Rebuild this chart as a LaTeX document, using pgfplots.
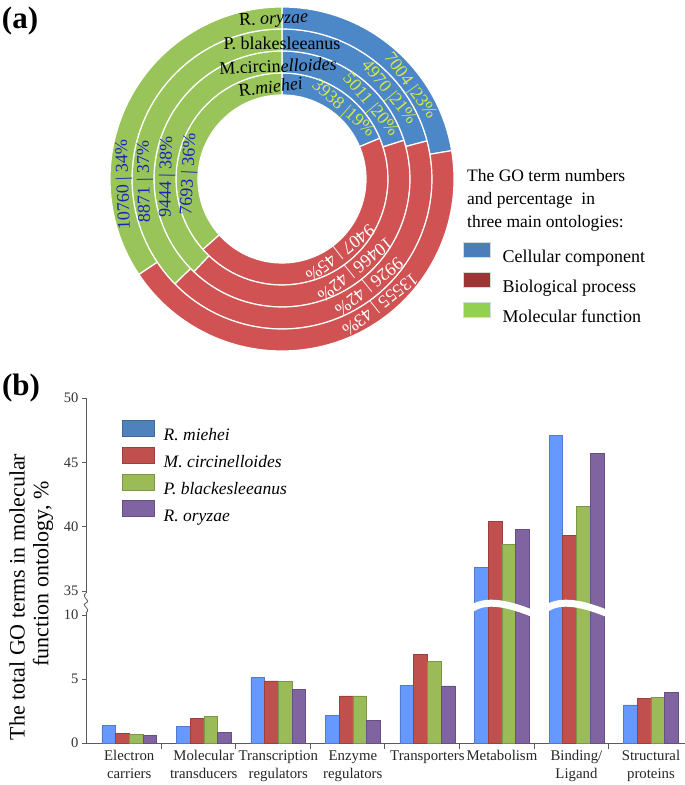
\documentclass[border=0pt]{standalone}
\usepackage{pgfplots}
\pgfplotsset{compat=1.18}
\usepackage{pgfplotstable}
\usepackage{fontspec}
\setmainfont{Liberation Serif}

% donut colours
\definecolor{piecc}{RGB}{76,136,200}
\definecolor{piebp}{RGB}{208,82,82}
\definecolor{piemf}{RGB}{152,196,89}
\definecolor{legcc}{RGB}{74,126,187}
\definecolor{legbp}{RGB}{158,52,52}
\definecolor{legmf}{RGB}{146,208,80}
\definecolor{cctext}{RGB}{214,232,74}
\definecolor{mftext}{RGB}{25,35,190}
% bar colours
\definecolor{bblue}{RGB}{102,153,255}
\definecolor{bred}{RGB}{192,80,77}
\definecolor{bgreen}{RGB}{155,187,89}
\definecolor{bpurple}{RGB}{128,100,162}
\definecolor{lblue}{RGB}{79,129,189}
\definecolor{axgray}{RGB}{90,90,90}

\newcommand{\rf}{\fontsize{18}{20}\selectfont}

% one ring segment: colour, inner r, outer r, start angle, end angle
\newcommand{\seg}[5]{%
  \fill[#1, draw=white, line width=1.2pt, shift={(axis cs:0,0)}]
    ({#4}:#3pt) arc[start angle={#4}, end angle={#5}, radius=#3pt]
    -- ({#5}:#2pt) arc[start angle={#5}, end angle={#4}, radius=#2pt] -- cycle;}
% one ring: inner r, outer r, cellular component, biological process, molecular function
\newcommand{\ring}[5]{%
  \seg{piecc}{#1}{#2}{90}{90-360*(#3/1000)/(#3/1000+#4/1000+#5/1000)}%
  \seg{piebp}{#1}{#2}{90-360*(#3/1000)/(#3/1000+#4/1000+#5/1000)}{90-360*(#3/1000+#4/1000)/(#3/1000+#4/1000+#5/1000)}%
  \seg{piemf}{#1}{#2}{90-360*(#3/1000+#4/1000)/(#3/1000+#4/1000+#5/1000)}{-270}}
% label on a ring: x, y, rotation, colour, text
\newcommand{\rlab}[5]{\node[rotate=#3, text=#4, font=\rf, inner sep=0pt] at (axis cs:#1,#2) {#5};}

% share of GO terms in molecular function ontology, %
\pgfplotstableread{
cat  rmi    mci    pbl    ror
0    1.35   0.75   0.65   0.58
1    1.27   1.94   2.07   0.83
2    5.10   4.85   4.80   4.20
3    2.18   3.68   3.68   1.76
4    4.52   6.95   6.36   4.46
5    36.85  40.40  38.65  39.80
6    47.07  39.35  41.60  45.70
7    2.98   3.48   3.58   3.97
}\mfdata

\pgfplotsset{
  barax/.style={scale only axis, width=600pt, xmin=-0.58, xmax=7.47,
    ybar=0pt, bar width=13.7pt, axis y line*=left,
    tick align=outside, major tick length=4pt, minor tick length=6pt,
    axis line style={axgray, line width=0.8pt},
    tick style={axgray, line width=0.8pt},
    yticklabel style={font=\fontsize{14.5}{16}\selectfont, text=black!80},
    /pgf/number format/assume math mode=true},
}

\begin{document}
\begin{tikzpicture}
\useasboundingbox (0pt,0pt) rectangle (685pt,785pt);
\node[font=\fontsize{31}{34}\selectfont\bfseries] at (20pt,764pt) {(a)};
\node[font=\fontsize{31}{34}\selectfont\bfseries] at (21pt,397pt) {(b)};

% ---------- (a) donut ----------
\begin{axis}[name=pie, at={(282pt,606pt)}, anchor=center, scale only axis,
  width=344pt, height=344pt, xmin=-172, xmax=172, ymin=-172, ymax=172,
  hide axis, clip=false,
  legend cell align=left,
  legend style={draw=none, fill=none, at={(1.026,0.316)}, anchor=north west,
    font=\fontsize{18}{21}\selectfont, inner sep=0pt, row sep=5.5pt,
    nodes={text height=15pt, text depth=4.5pt, inner ysep=0pt, inner xsep=3pt},
    /tikz/every odd column/.append style={column sep=9pt}}]
\ring{84}{106}{3938}{9407}{7693}
\ring{106}{128}{5011}{10466}{9444}
\ring{128}{150}{4970}{9926}{8871}
\ring{150}{172}{7004}{13555}{10760}

\rlab{-8.4}{159}{3}{black}{R. \textit{oryzae}}
\rlab{0}{136}{0}{black}{P. blakesleeanus}
\rlab{-4}{113}{2}{black}{M.circin\textit{elloides}}
\rlab{-11.3}{92}{7}{black}{R.\textit{miehei}}

\rlab{61.0}{70.2}{-41}{cctext}{3938 |19\%}
\rlab{88.1}{73.9}{-50}{cctext}{5011 |20\%}
\rlab{106.5}{86.2}{-51}{cctext}{4970 |21\%}
\rlab{127.8}{92.9}{-54}{cctext}{7004 |23\%}

\rlab{57.3}{-73.3}{-142}{white}{9407 | 45\%}
\rlab{72.4}{-89.4}{-141}{white}{10466 | 42\%}
\rlab{86.2}{-106.5}{-141}{white}{9926 | 42\%}
\rlab{97.3}{-124.5}{-142}{white}{13555 | 43\%}

\rlab{-92.9}{4.9}{87}{mftext}{7693 | 36\%}
\rlab{-115}{2}{89}{mftext}{9444 | 38\%}
\rlab{-137}{-2.4}{91}{mftext}{8871 | 37\%}
\rlab{-157.9}{-5.5}{92}{mftext}{10760 | 34\%}

\addlegendimage{legend image code/.code={\fill[legcc, draw=black!15] (0pt,-0.5pt) rectangle (27pt,14.5pt);}}
\addlegendentry{Cellular component}
\addlegendimage{legend image code/.code={\fill[legbp, draw=black!15] (0pt,-0.5pt) rectangle (27pt,14.5pt);}}
\addlegendentry{Biological process}
\addlegendimage{legend image code/.code={\fill[legmf, draw=black!15] (0pt,-0.5pt) rectangle (27pt,14.5pt);}}
\addlegendentry{Molecular function}
\end{axis}
\node[anchor=north west, align=left, font=\fontsize{17.5}{23}\selectfont, inner sep=0pt]
  at (467pt,616pt) {The GO term numbers\\and percentage\ \ in\\three main ontologies:};

% ---------- (b) bars, lower part ----------
\begin{axis}[barax, name=lower, at={(86pt,42pt)}, anchor=south west,
  height=152pt, ymin=0, ymax=11.875, axis x line*=bottom,
  ytick={0,5,10}, xtick={0,...,7},
  xticklabels={{Electron\\carriers},{Molecular\\transducers},{Transcription\\regulators},{Enzyme\\regulators},{Transporters},{Metabolism},{Binding/\\Ligand},{Structural\\proteins}},
  minor xtick={0.43,1.43,2.43,3.43,4.43,5.43,6.43},
  major x tick style={draw=none},
  xticklabel style={align=center, font=\fontsize{14.8}{18}\selectfont, text=black!85}]
\addplot[fill=bblue, draw=bblue!80!black, line width=0.5pt] table[x=cat, y=rmi]{\mfdata};
\addplot[fill=bred, draw=bred!80!black, line width=0.5pt] table[x=cat, y=mci]{\mfdata};
\addplot[fill=bgreen, draw=bgreen!80!black, line width=0.5pt] table[x=cat, y=pbl]{\mfdata};
\addplot[fill=bpurple, draw=bpurple!80!black, line width=0.5pt] table[x=cat, y=ror]{\mfdata};
\draw[white, line width=7pt] (axis cs:4.58,10.45) .. controls (axis cs:4.75,11.15) and (axis cs:5.0,11.1) .. (axis cs:5.42,10.1);
\draw[white, line width=7pt] (axis cs:5.58,10.45) .. controls (axis cs:5.75,11.15) and (axis cs:6.0,11.1) .. (axis cs:6.42,10.1);
\end{axis}

% ---------- (b) bars, upper part ----------
\begin{axis}[barax, name=upper, at={(86pt,194pt)}, anchor=south west,
  height=193pt, ymin=35, ymax=50, axis x line=none,
  ytick={35,40,45,50}, xtick=\empty,
  unbounded coords=discard, y filter/.expression={y<35 ? nan : y},
  legend cell align=left,
  legend style={draw=none, fill=none, at={(0.06,0.886)}, anchor=north west,
    font=\fontsize{17.5}{20}\selectfont\itshape, inner sep=0pt, row sep=2pt,
    nodes={text height=15pt, text depth=4pt, inner ysep=0pt, inner xsep=3pt},
    /tikz/every odd column/.append style={column sep=6pt}}]
\addplot[fill=bblue, draw=bblue!80!black, line width=0.5pt,
  legend image code/.code={\fill[lblue, draw=lblue!80!black] (0pt,-1pt) rectangle (32pt,15pt);}]
  table[x=cat, y=rmi]{\mfdata};
\addlegendentry{R. miehei}
\addplot[fill=bred, draw=bred!80!black, line width=0.5pt,
  legend image code/.code={\fill[bred, draw=bred!80!black] (0pt,-1pt) rectangle (32pt,15pt);}]
  table[x=cat, y=mci]{\mfdata};
\addlegendentry{M. circinelloides}
\addplot[fill=bgreen, draw=bgreen!80!black, line width=0.5pt,
  legend image code/.code={\fill[bgreen, draw=bgreen!80!black] (0pt,-1pt) rectangle (32pt,15pt);}]
  table[x=cat, y=pbl]{\mfdata};
\addlegendentry{P. blackesleeanus}
\addplot[fill=bpurple, draw=bpurple!80!black, line width=0.5pt,
  legend image code/.code={\fill[bpurple, draw=bpurple!80!black] (0pt,-1pt) rectangle (32pt,15pt);}]
  table[x=cat, y=ror]{\mfdata};
\addlegendentry{R. oryzae}
\end{axis}

% axis break mark
\fill[white] (82pt,173pt) rectangle (90pt,192pt);
\draw[axgray, line width=0.8pt] (86pt,192pt) .. controls (80pt,187pt) and (92pt,185pt) .. (86pt,182pt)
  .. controls (80pt,179pt) and (92pt,177pt) .. (86pt,172pt);

\node[rotate=90, font=\fontsize{22}{26}\selectfont] at (17pt,188pt) {The total GO terms in molecular};
\node[rotate=90, font=\fontsize{22}{26}\selectfont] at (43pt,211pt) {function ontology, \%};
\end{tikzpicture}
\end{document}
